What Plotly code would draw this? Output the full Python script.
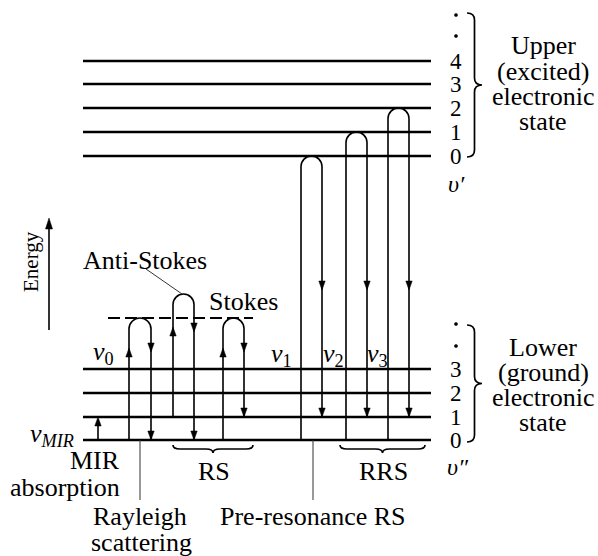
import plotly.graph_objects as go

# ---------------- data (pixel-space schematic) ----------------
upper_v = [0, 1, 2, 3, 4]
upper_y = [156, 132, 108, 84, 61]
upper_dots_y = [15, 36]
lower_v = [0, 1, 2, 3]
lower_y = [440, 417, 393, 369]
lower_dots_y = [324, 346]
level_x = [83, 431]
virtual_y = 318
virtual_x = [108, 253]

# scattering loops (excite up, relax down)
loop_x_up = [129, 173, 223, 301, 346, 388]
loop_x_down = [151, 194, 244, 322, 367, 409]
loop_from_level = [0, 1, 0, 0, 0, 0]
loop_to_level = [0, 0, 1, 1, 1, 1]
loop_top_y = [318, 294, 318, 156, 132, 108]
loop_up_arrow_y = [348, 327, 348, None, None, None]
loop_down_arrow_y = [352, 332, 352, 290, 290, 290]

mir_x = 98
energy_x = 49
energy_y = [330, 218]

nu_labels = ["<i>v</i><sub>0</sub>", "<i>v</i><sub>1</sub>", "<i>v</i><sub>2</sub>", "<i>v</i><sub>3</sub>"]
nu_x = [103, 281, 333, 377]
nu_y = [353, 355, 355, 355]

upper_text = ["Upper", "(excited)", "electronic", "state"]
upper_text_y = [45, 71, 96, 121]
lower_text = ["Lower", "(ground)", "electronic", "state"]
lower_text_y = [347, 372, 397, 422]
text_x = 543

FONT = "Liberation Serif, Times New Roman, serif"
FS = 26
BLACK = "#000000"

fig = go.Figure()
shapes = []
annots = []


def line(x0, y0, x1, y1, w=1.6, color=BLACK, dash="solid"):
    shapes.append(dict(type="line", xref="x", yref="y", x0=x0, y0=y0, x1=x1, y1=y1,
                       line=dict(color=color, width=w, dash=dash)))


def dot(x, y, r=1.6):
    shapes.append(dict(type="circle", xref="x", yref="y", x0=x - r, x1=x + r, y0=y - r, y1=y + r,
                       fillcolor=BLACK, line=dict(color=BLACK, width=0.5)))


def arrowhead(x, y, direction, L=9, hw=3.2):
    s = 1 if direction == "down" else -1
    p = f"M {x},{y} L {x-hw},{y - s*L} L {x+hw},{y - s*L} Z"
    shapes.append(dict(type="path", xref="x", yref="y", path=p,
                       fillcolor=BLACK, line=dict(color=BLACK, width=0.5)))


def text(t, x, y, size=FS, xanchor="center", yanchor="middle", angle=0):
    annots.append(dict(text=t, x=x, y=y, xref="x", yref="y", showarrow=False,
                       xanchor=xanchor, yanchor=yanchor, textangle=angle,
                       font=dict(family=FONT, size=size, color=BLACK)))


def vbrace(x0, yt, yb, w):
    ym = (yt + yb) / 2
    xs = x0 + w * 0.5
    q = 7
    p = (f"M {x0},{yt} Q {xs},{yt} {xs},{yt+q} L {xs},{ym-q} "
         f"Q {xs},{ym} {x0+w},{ym} Q {xs},{ym} {xs},{ym+q} "
         f"L {xs},{yb-q} Q {xs},{yb} {x0},{yb}")
    shapes.append(dict(type="path", xref="x", yref="y", path=p, line=dict(color=BLACK, width=1.7)))


def hbrace(xl, xr, y0, h):
    xm = (xl + xr) / 2
    ys = y0 + h * 0.5
    q = 7
    p = (f"M {xl},{y0} Q {xl},{ys} {xl+q},{ys} L {xm-q},{ys} "
         f"Q {xm},{ys} {xm},{y0+h} Q {xm},{ys} {xm+q},{ys} "
         f"L {xr-q},{ys} Q {xr},{ys} {xr},{y0}")
    shapes.append(dict(type="path", xref="x", yref="y", path=p, line=dict(color=BLACK, width=1.7)))


# energy levels
for y in upper_y + lower_y:
    line(level_x[0], y, level_x[1], y, w=2.6)
# virtual level
line(virtual_x[0], virtual_y, virtual_x[1], virtual_y, w=2.2, dash="12px,5px")

# loops
k = 0.5523
for i in range(len(loop_x_up)):
    xu, xd, top = loop_x_up[i], loop_x_down[i], loop_top_y[i]
    r = (xd - xu) / 2
    xc = (xu + xd) / 2
    cy = top + r
    y_start = lower_y[loop_from_level[i]]
    y_end = lower_y[loop_to_level[i]]
    p = (f"M {xu},{y_start} L {xu},{cy} "
         f"C {xu},{cy - k*r} {xc - k*r},{top} {xc},{top} "
         f"C {xc + k*r},{top} {xd},{cy - k*r} {xd},{cy} L {xd},{y_end}")
    shapes.append(dict(type="path", xref="x", yref="y", path=p, line=dict(color=BLACK, width=1.6)))
    if loop_up_arrow_y[i] is not None:
        arrowhead(xu, loop_up_arrow_y[i], "up")
    arrowhead(xd, loop_down_arrow_y[i], "down")
    arrowhead(xd, y_end, "down")

# MIR absorption
line(mir_x, lower_y[0], mir_x, lower_y[1] + 4, w=1.6)
arrowhead(mir_x, lower_y[1], "up")

# energy axis arrow
line(energy_x, energy_y[0], energy_x, energy_y[1] + 6, w=1.6)
arrowhead(energy_x, energy_y[1], "up", L=11, hw=3.5)
text("Energy", 31, 262, size=21, angle=-90)

# pointers
line(140, lower_y[0], 140, 500, w=1.0, color="#333333")
line(313, lower_y[0], 313, 500, w=1.0, color="#333333")
line(146, 269, 182, 294, w=1.0, color="#333333")

# braces
vbrace(467, 13, 157, 15)
vbrace(467, 325, 442, 15)
hbrace(173, 253, 445, 8)
hbrace(340, 425, 445, 8)

# level numbers
for v, y in zip(upper_v, upper_y):
    text(str(v), 456, y, size=23)
for y in upper_dots_y:
    dot(456, y)
text("<i>υ′</i>", 456, 184, size=24)
for v, y in zip(lower_v, lower_y):
    text(str(v), 456, y, size=23)
for y in lower_dots_y:
    dot(456, y)
text("<i>υ″</i>", 458, 467, size=24)

for t, y in zip(upper_text, upper_text_y):
    text(t, text_x, y)
for t, y in zip(lower_text, lower_text_y):
    text(t, text_x, y)

for t, x, y in zip(nu_labels, nu_x, nu_y):
    text(t, x, y)
text("<i>v</i><sub><i>MIR</i></sub>", 76, 435, xanchor="right")

text("Anti-Stokes", 145, 260)
text("Stokes", 243, 301)
text("MIR", 122, 460, xanchor="right")
text("absorption", 122, 487, xanchor="right")
text("RS", 214, 471)
text("RRS", 383, 471)
text("Rayleigh", 140, 516)
text("scattering", 141, 542)
text("Pre-resonance RS", 313, 516)

fig.update_layout(
    width=598, height=556, autosize=False,
    margin=dict(l=0, r=0, t=0, b=0),
    paper_bgcolor="white", plot_bgcolor="white",
    font=dict(family=FONT),
    xaxis=dict(range=[0, 598], visible=False, fixedrange=True),
    yaxis=dict(range=[556, 0], visible=False, fixedrange=True),
    shapes=shapes, annotations=annots, showlegend=False,
)
fig.write_html("out.html")
